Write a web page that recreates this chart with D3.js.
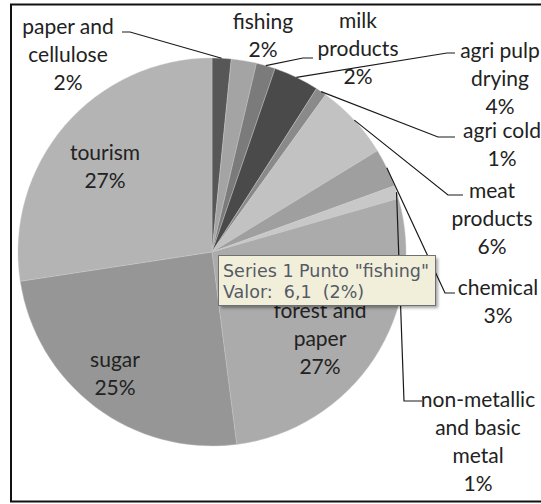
<!DOCTYPE html>
<html>
<head>
<meta charset="utf-8">
<script src="https://cdn.jsdelivr.net/npm/d3@7"></script>
<style>
  html, body { margin: 0; padding: 0; background: #fff; }
  svg { display: block; }
</style>
</head>
<body>
<svg id="chart" viewBox="0 0 541 504" width="541" height="504"></svg>
<script>
// slices, clockwise from 12 o'clock
const categories = [
  "paper and cellulose", "fishing", "milk products", "agri pulp drying",
  "agri cold", "meat products", "chemical", "non-metallic and basic metal",
  "forest and paper", "sugar", "tourism"
];
const values = [4.6, 6.1, 4.6, 11.0, 2.6, 18.3, 9.3, 3.2, 79.6, 71.5, 79.6];
const labelLines = [
  ["paper and", "cellulose"], ["fishing"], ["milk", "products"], ["agri pulp", "drying"],
  ["agri cold"], ["meat", "products"], ["chemical"], ["non-metallic", "and basic", "metal"],
  ["forest and", "paper"], ["sugar"], ["tourism"]
];
const seriesName = "Series 1";
const hovered = "fishing";

const colors = ["#575757", "#a4a4a4", "#7b7b7b", "#4a4a4a", "#8a8a8a", "#c2c2c2",
                "#9f9f9f", "#c8c8c8", "#ababab", "#969696", "#b4b4b4"];

// label placement (centre x, first baseline) and leader elbows
const labelPos = {
  "paper and cellulose": { x: 68, y: 34, elbow: [130, 32], end: 122 },
  "fishing": { x: 263, y: 29 },
  "milk products": { x: 358, y: 28, elbow: [303, 58], end: 313 },
  "agri pulp drying": { x: 500, y: 58, elbow: [447, 53], end: 455 },
  "agri cold": { x: 502, y: 138, elbow: [438, 137], end: 455 },
  "meat products": { x: 492, y: 198, elbow: [448, 195], end: 463 },
  "chemical": { x: 498, y: 295, elbow: [445, 293], end: 455 },
  "non-metallic and basic metal": { x: 478, y: 407, elbow: [404, 401], end: 422 },
  "forest and paper": { x: 320, y: 318 },
  "sugar": { x: 115, y: 367 },
  "tourism": { x: 105, y: 160 }
};

const svg = d3.select("#chart");
const cx = 212, cy = 252, radius = 194;
const lineH = 28;
const fontFamily = "Lato, 'Open Sans', sans-serif";

const data = categories.map((c, i) => ({ name: c, value: values[i], lines: labelLines[i] }));
const total = d3.sum(values);
const pct = (v) => Math.round((v / total) * 100) + "%";

const colScale = d3.scaleOrdinal().domain(categories).range(colors);

const pie = d3.pie().sort(null).value((d) => d.value).startAngle(0).endAngle(2 * Math.PI);
const arcs = pie(data);
const arc = d3.arc().innerRadius(0).outerRadius(radius);

// frame
svg.append("rect")
  .attr("x", 11).attr("y", 4.5)
  .attr("width", 560).attr("height", 497)
  .attr("fill", "none")
  .attr("stroke", "#111")
  .attr("stroke-width", 2);

const pieG = svg.append("g").attr("transform", `translate(${cx} ${cy})`);

pieG.selectAll("path.slice")
  .data(arcs)
  .enter()
  .append("path")
  .attr("class", "slice")
  .attr("d", arc)
  .attr("fill", (d) => colScale(d.data.name))
  .attr("stroke", "#c9c9c9")
  .attr("stroke-width", 0.4);

// leader lines
const leaders = arcs.filter((d) => labelPos[d.data.name].elbow);
svg.selectAll("polyline.leader")
  .data(leaders)
  .enter()
  .append("polyline")
  .attr("class", "leader")
  .attr("points", (d) => {
    const a = (d.startAngle + d.endAngle) / 2;
    const p0 = [cx + radius * Math.sin(a), cy - radius * Math.cos(a)];
    const lp = labelPos[d.data.name];
    return [p0, lp.elbow, [lp.end, lp.elbow[1]]].map((p) => p.join(",")).join(" ");
  })
  .attr("fill", "none")
  .attr("stroke", "#1a1a1a")
  .attr("stroke-width", 1.2);

// labels
const labels = svg.selectAll("text.label")
  .data(arcs)
  .enter()
  .append("text")
  .attr("class", "label")
  .attr("text-anchor", "middle")
  .style("font-family", fontFamily)
  .style("font-size", "21px")
  .style("fill", "#222");

labels.each(function (d) {
  const lp = labelPos[d.data.name];
  const lines = d.data.lines.concat([pct(d.data.value)]);
  d3.select(this)
    .selectAll("tspan")
    .data(lines)
    .enter()
    .append("tspan")
    .attr("x", lp.x)
    .attr("y", (l, i) => lp.y + i * lineH)
    .text((l) => l);
});

// hover tooltip
const hov = data.find((d) => d.name === hovered);
const tipX = 218, tipY = 255, tipW = 217, tipH = 50;
const tip = svg.append("g");
tip.append("rect")
  .attr("x", tipX + 3).attr("y", tipY + 3)
  .attr("width", tipW).attr("height", tipH)
  .attr("fill", "#000")
  .attr("opacity", 0.35)
  .style("filter", "blur(1.5px)");
tip.append("rect")
  .attr("x", tipX + 0.5).attr("y", tipY + 0.5)
  .attr("width", tipW).attr("height", tipH)
  .attr("fill", "#f1efda")
  .attr("stroke", "#707070")
  .attr("stroke-width", 1);
const tipLines = [
  `${seriesName} Punto "${hovered}"`,
  `Valor:  ${String(hov.value).replace(".", ",")}  (${pct(hov.value)})`
];
tip.append("text")
  .style("font-family", "'DejaVu Sans', sans-serif")
  .style("font-size", "17.5px")
  .style("fill", "#555a66")
  .style("white-space", "pre")
  .selectAll("tspan")
  .data(tipLines)
  .enter()
  .append("tspan")
  .attr("x", tipX + 5)
  .attr("y", (l, i) => tipY + 22 + i * 21)
  .text((l) => l);
</script>
</body>
</html>
